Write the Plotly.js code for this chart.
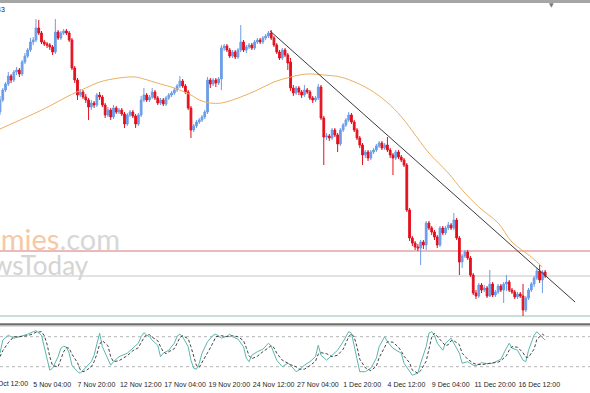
<!DOCTYPE html>
<html><head><meta charset="utf-8">
<script src="https://cdn.plot.ly/plotly-3.0.1.min.js"></script>
<style>html,body{margin:0;padding:0;background:#fff;overflow:hidden}#chart{width:590px;height:393px}</style>
</head><body><div id="chart"></div>
<script>
// ---------- DATA (H4 candles) ----------
const open = [1.1088,1.1100,1.1110,1.1116,1.1124,1.1120,1.1128,1.1130,1.1126,1.1138,
 1.1144,1.1150,1.1158,1.1160,1.1172,1.1167,1.1158,1.1156,1.1155,1.1153,
 1.1148,1.1168,1.1162,1.1167,1.1169,1.1167,1.1160,1.1132,1.1120,1.1105,
 1.1108,1.1103,1.1100,1.1093,1.1097,1.1095,1.1105,1.1103,1.1095,1.1085,
 1.1090,1.1083,1.1092,1.1088,1.1090,1.1086,1.1076,1.1085,1.1088,1.1084,
 1.1076,1.1085,1.1100,1.1105,1.1100,1.1103,1.1108,1.1102,1.1097,1.1100,
 1.1096,1.1102,1.1105,1.1107,1.1110,1.1114,1.1119,1.1114,1.1108,1.1092,
 1.1070,1.1074,1.1078,1.1080,1.1083,1.1088,1.1120,1.1116,1.1120,1.1117,
 1.1121,1.1152,1.1154,1.1150,1.1144,1.1148,1.1143,1.1150,1.1158,1.1150,
 1.1153,1.1155,1.1152,1.1158,1.1160,1.1158,1.1162,1.1164,1.1167,1.1162,
 1.1155,1.1148,1.1142,1.1150,1.1145,1.1138,1.1112,1.1107,1.1112,1.1108,
 1.1105,1.1110,1.1108,1.1102,1.1100,1.1102,1.1113,1.1082,1.1063,1.1064,
 1.1062,1.1070,1.1065,1.1056,1.1070,1.1075,1.1080,1.1085,1.1078,1.1070,
 1.1062,1.1055,1.1045,1.1048,1.1042,1.1048,1.1050,1.1054,1.1057,1.1052,
 1.1055,1.1050,1.1045,1.1042,1.1048,1.1043,1.1040,1.1035,1.0990,1.0962,
 1.0957,1.0953,1.0952,1.0958,1.0955,1.0977,1.0972,1.0968,1.0963,1.0955,
 1.0972,1.0967,1.0972,1.0975,1.0972,1.0980,1.0962,1.0938,1.0944,1.0948,
 1.0942,1.0925,1.0907,1.0904,1.0915,1.0910,1.0912,1.0904,1.0916,1.0905,
 1.0908,1.0914,1.0910,1.0916,1.0918,1.0910,1.0908,1.0903,1.0906,1.0904,
 1.0890,1.0902,1.0910,1.0916,1.0922,1.0929,1.0920,1.0928];
const high = [1.1104,1.1112,1.1118,1.1128,1.1126,1.1130,1.1133,1.1132,1.1140,1.1147,
 1.1152,1.1162,1.1163,1.1181,1.1180,1.1169,1.1160,1.1158,1.1157,1.1155,
 1.1181,1.1170,1.1169,1.1171,1.1171,1.1169,1.1162,1.1134,1.1122,1.1111,
 1.1110,1.1106,1.1102,1.1100,1.1099,1.1107,1.1108,1.1105,1.1097,1.1093,
 1.1092,1.1095,1.1094,1.1092,1.1092,1.1088,1.1087,1.1090,1.1090,1.1086,
 1.1087,1.1104,1.1112,1.1107,1.1105,1.1112,1.1110,1.1104,1.1102,1.1102,
 1.1104,1.1107,1.1109,1.1112,1.1116,1.1124,1.1121,1.1116,1.1110,1.1094,
 1.1076,1.1080,1.1082,1.1085,1.1090,1.1123,1.1122,1.1122,1.1122,1.1123,
 1.1155,1.1156,1.1156,1.1152,1.1150,1.1150,1.1152,1.1175,1.1160,1.1155,
 1.1157,1.1157,1.1160,1.1162,1.1162,1.1164,1.1166,1.1169,1.1170,1.1164,
 1.1157,1.1150,1.1152,1.1152,1.1147,1.1142,1.1115,1.1114,1.1114,1.1110,
 1.1115,1.1112,1.1110,1.1104,1.1104,1.1116,1.1115,1.1084,1.1067,1.1066,
 1.1072,1.1072,1.1067,1.1072,1.1077,1.1082,1.1088,1.1087,1.1080,1.1072,
 1.1064,1.1057,1.1050,1.1050,1.1050,1.1052,1.1056,1.1059,1.1059,1.1057,
 1.1063,1.1052,1.1047,1.1050,1.1050,1.1045,1.1042,1.1037,1.0992,1.0964,
 1.0959,1.0956,1.0960,1.0960,1.0979,1.0979,1.0974,1.0970,1.0965,1.0974,
 1.0974,1.0974,1.0978,1.0977,1.0987,1.0982,1.0964,1.0946,1.0950,1.0950,
 1.0944,1.0927,1.0910,1.0917,1.0917,1.0915,1.0914,1.0930,1.0918,1.0910,
 1.0916,1.0916,1.0918,1.0925,1.0920,1.0912,1.0910,1.0908,1.0908,1.0916,
 1.0904,1.0912,1.0918,1.0924,1.0932,1.0935,1.0930,1.0930];
const low = [1.1085,1.1098,1.1108,1.1114,1.1117,1.1118,1.1125,1.1123,1.1124,1.1136,
 1.1142,1.1148,1.1155,1.1158,1.1165,1.1156,1.1154,1.1152,1.1150,1.1145,
 1.1146,1.1160,1.1160,1.1165,1.1165,1.1158,1.1130,1.1117,1.1100,1.1103,
 1.1101,1.1097,1.1080,1.1090,1.1092,1.1093,1.1100,1.1093,1.1082,1.1083,
 1.1080,1.1081,1.1086,1.1086,1.1084,1.1072,1.1074,1.1083,1.1082,1.1072,
 1.1074,1.1083,1.1098,1.1098,1.1098,1.1101,1.1100,1.1095,1.1095,1.1094,
 1.1094,1.1100,1.1103,1.1105,1.1108,1.1112,1.1112,1.1106,1.1090,1.1062,
 1.1068,1.1072,1.1076,1.1078,1.1081,1.1086,1.1112,1.1114,1.1113,1.1115,
 1.1110,1.1149,1.1148,1.1142,1.1142,1.1141,1.1141,1.1148,1.1148,1.1147,
 1.1151,1.1150,1.1150,1.1156,1.1156,1.1156,1.1160,1.1162,1.1160,1.1153,
 1.1146,1.1140,1.1140,1.1143,1.1130,1.1109,1.1104,1.1105,1.1105,1.1102,
 1.1103,1.1106,1.1100,1.1097,1.1098,1.1100,1.1080,1.1035,1.1060,1.1059,
 1.1060,1.1063,1.1048,1.1054,1.1068,1.1073,1.1078,1.1076,1.1068,1.1060,
 1.1052,1.1035,1.1042,1.1039,1.1040,1.1046,1.1048,1.1052,1.1050,1.1050,
 1.1048,1.1042,1.1025,1.1040,1.1041,1.1038,1.1033,1.0988,1.0959,1.0954,
 1.0950,1.0949,1.0935,1.0951,1.0950,1.0970,1.0965,1.0960,1.0952,1.0953,
 1.0965,1.0965,1.0970,1.0970,1.0970,1.0960,1.0925,1.0932,1.0942,1.0940,
 1.0923,1.0905,1.0901,1.0902,1.0907,1.0908,1.0902,1.0903,1.0903,1.0903,
 1.0906,1.0908,1.0897,1.0909,1.0908,1.0906,1.0901,1.0901,1.0902,1.0884,
 1.0888,1.0900,1.0908,1.0913,1.0920,1.0917,1.0907,1.0922];
const close = [1.1100,1.1110,1.1116,1.1124,1.1120,1.1128,1.1130,1.1126,1.1138,1.1144,
 1.1150,1.1158,1.1160,1.1172,1.1167,1.1158,1.1156,1.1155,1.1153,1.1148,
 1.1168,1.1162,1.1167,1.1169,1.1167,1.1160,1.1132,1.1120,1.1105,1.1108,
 1.1103,1.1100,1.1093,1.1097,1.1095,1.1105,1.1103,1.1095,1.1085,1.1090,
 1.1083,1.1092,1.1088,1.1090,1.1086,1.1076,1.1085,1.1088,1.1084,1.1076,
 1.1085,1.1100,1.1105,1.1100,1.1103,1.1108,1.1102,1.1097,1.1100,1.1096,
 1.1102,1.1105,1.1107,1.1110,1.1114,1.1119,1.1114,1.1108,1.1092,1.1070,
 1.1074,1.1078,1.1080,1.1083,1.1088,1.1120,1.1116,1.1120,1.1117,1.1121,
 1.1152,1.1154,1.1150,1.1144,1.1148,1.1143,1.1150,1.1158,1.1150,1.1153,
 1.1155,1.1152,1.1158,1.1160,1.1158,1.1162,1.1164,1.1167,1.1162,1.1155,
 1.1148,1.1142,1.1150,1.1145,1.1137,1.1112,1.1107,1.1112,1.1108,1.1105,
 1.1110,1.1108,1.1102,1.1100,1.1102,1.1113,1.1082,1.1063,1.1064,1.1062,
 1.1070,1.1065,1.1056,1.1070,1.1075,1.1080,1.1085,1.1078,1.1070,1.1062,
 1.1055,1.1045,1.1048,1.1042,1.1048,1.1050,1.1054,1.1057,1.1052,1.1055,
 1.1050,1.1045,1.1042,1.1048,1.1043,1.1040,1.1035,1.0990,1.0962,1.0957,
 1.0953,1.0952,1.0958,1.0955,1.0977,1.0972,1.0968,1.0963,1.0955,1.0972,
 1.0967,1.0972,1.0975,1.0972,1.0980,1.0962,1.0938,1.0944,1.0948,1.0942,
 1.0925,1.0907,1.0904,1.0915,1.0910,1.0912,1.0904,1.0916,1.0905,1.0908,
 1.0914,1.0910,1.0916,1.0918,1.0910,1.0908,1.0903,1.0906,1.0904,1.0890,
 1.0902,1.0910,1.0916,1.0922,1.0929,1.0920,1.0928,1.0924];
const bars = open.map((_, i) => i);   // bar number on the time axis

// moving average (read at sample bars)
const maBar   = [0,12,18,24,31,36,43,49,52,58,63,69,72,76,80,87,93,99,105,111,117,123,129,135,141,146,149,155,162,167,173,180,185,192,196];
const maValue = [1.1071,1.1086,1.1094,1.1103,1.1112,1.1118,1.1122,1.1123,1.1121,1.1116,1.1112,1.1105,1.1100,1.1097,1.1097,1.1103,1.1110,1.1118,1.1123,1.1126,1.1125,1.1123,1.1117,1.1108,1.1095,1.1080,1.1069,1.1047,1.1027,1.1010,1.0993,1.0977,1.0958,1.0943,1.0933];

// down trend line and horizontal levels
const trendBar   = [97.6, 207.8];
const trendPrice = [1.1169, 1.0898];
const levelResistance = 1.0949;
const levelPivot      = 1.0924;
const levelSupport    = 1.0884;

// stochastic oscillator
const stochBar = [0,1,3,5,7,10,12,13,15,16,17,18,19,21,22,23,24,25,26,28,29,30,31,33,34,35,36,37,39,40,41,43,46,47,48,50,51,52,53,54,55,57,58,59,60,61,63,64,65,66,68,69,70,71,72,73,75,77,78,80,82,83,84,86,88,89,90,91,93,95,97,98,99,100,102,104,105,107,108,110,112,114,115,116,118,120,122,124,125,126,127,128,129,130,132,134,136,137,139,140,142,144,145,146,148,149,151,152,154,155,156,157,158,160,161,162,163,164,166,167,169,171,172,174,176,178,180,181,183,184,185,187,189,190,191,193,194,196,197];
const stochMain = [47,73,83,77,80,85,90,92,83,60,33,13,17,40,57,61,59,47,23,10,7,13,20,30,43,67,87,60,33,23,30,40,47,52,57,67,80,88,83,80,73,63,40,47,50,53,67,81,85,80,60,33,17,15,27,47,70,83,85,77,81,85,80,75,60,37,30,43,50,55,67,61,47,33,20,27,23,10,13,23,30,40,63,43,33,43,53,70,80,90,87,60,33,10,10,17,37,60,80,70,57,50,47,27,10,3,7,27,60,87,90,83,67,53,67,73,77,67,47,27,30,23,22,28,26,27,33,35,57,67,57,53,33,30,53,83,90,80,73];
const stochSignal = [40,52,68,80,80,82,86,89,90,82,65,40,22,20,35,50,58,57,45,28,14,10,12,20,30,45,65,72,62,40,30,32,42,47,52,58,68,78,84,84,79,72,60,50,46,50,56,67,78,82,76,60,38,22,19,28,48,68,80,82,80,81,82,80,72,58,42,36,41,50,58,62,58,47,33,26,24,20,15,15,22,31,45,48,46,40,43,55,68,80,86,79,60,35,18,12,21,38,59,70,69,59,51,41,28,13,7,12,31,58,79,87,80,68,62,64,72,72,64,47,35,27,25,24,26,27,29,32,42,53,60,59,48,39,39,55,75,85,81];
const stochLevels = [80, 20];

// time axis labels
const tickBar  = [12,28,44,60,76,92,108,124,140,156,172,188];
const tickText = ["5 Nov 04:00","7 Nov 20:00","12 Nov 12:00","17 Nov 04:00","19 Nov 20:00","24 Nov 12:00","27 Nov 04:00","1 Dec 20:00","4 Dec 12:00","9 Dec 04:00","11 Dec 20:00","16 Dec 12:00"];
const firstTickText = "31 Oct 12:00";   // label of the bar just left of the view

// ---------- LAYOUT ----------
const W = 590, H = 393;
const fy = px => 1 - px / H;      // pixel row -> paper fraction
const fx = px => px / W;

const traces = [
  {type:'scatter', mode:'lines', x: maBar, y: maValue, xaxis:'x', yaxis:'y',
   line:{color:'#ebb062', width:1, shape:'spline', smoothing:1}, hoverinfo:'skip'},
  {type:'candlestick', x: bars, open, high, low, close, xaxis:'x', yaxis:'y',
   increasing:{line:{color:'#6c9de8', width:1}, fillcolor:'#6c9de8'},
   decreasing:{line:{color:'#e3101e', width:1}, fillcolor:'#e3101e'},
   whiskerwidth:0, hoverinfo:'skip'},
  {type:'scatter', mode:'lines', x: trendBar, y: trendPrice, xaxis:'x', yaxis:'y',
   line:{color:'#3a3a3a', width:1}, hoverinfo:'skip'},
  {type:'scatter', mode:'lines', x: stochBar, y: stochMain, xaxis:'x', yaxis:'y2',
   line:{color:'#5db6ae', width:1}, hoverinfo:'skip'},
  {type:'scatter', mode:'lines', x: stochBar, y: stochSignal, xaxis:'x', yaxis:'y2',
   line:{color:'#444444', width:1, dash:'3px,2px'}, hoverinfo:'skip'}
];

const shapes = [
  {type:'rect', xref:'paper', yref:'paper', x0:0, x1:1, y0:fy(3), y1:1, fillcolor:'#a6a6a6', line:{width:0}},
  {type:'rect', xref:'paper', yref:'paper', x0:0, x1:1, y0:fy(325.5), y1:fy(323.3), fillcolor:'#6e6e6e', line:{width:0}},
  {type:'rect', xref:'paper', yref:'paper', x0:0, x1:1, y0:fy(326.5), y1:fy(325.5), fillcolor:'#bdbdbd', line:{width:0}},
  {type:'line', xref:'paper', yref:'y', x0:0, x1:1, y0:levelResistance, y1:levelResistance, line:{color:'#d9727a', width:1}, layer:'below'},
  {type:'line', xref:'paper', yref:'y', x0:0, x1:1, y0:levelPivot, y1:levelPivot, line:{color:'#c6c6c6', width:1}, layer:'below'},
  {type:'line', xref:'paper', yref:'y', x0:0, x1:1, y0:levelSupport, y1:levelSupport, line:{color:'#93c1b2', width:1}, layer:'below'}
].concat(stochLevels.map(v => ({type:'line', xref:'paper', yref:'y2', x0:0, x1:1, y0:v, y1:v,
   line:{color:'#b4b4b4', width:1, dash:'dot'}, layer:'below'})));

const tickFont = {family:'Liberation Sans, Arial, sans-serif', size:7, color:'#1e1e1e'};

const annotations = [
  {xref:'paper', yref:'paper', x:fx(122), y:fy(238), xanchor:'right', yanchor:'middle', showarrow:false,
   text:'<span style="color:#f6c8a4">Economies</span><span style="color:#d7d7d7">.com</span>',
   font:{family:'Lato, sans-serif', size:29}},
  {xref:'paper', yref:'paper', x:fx(91), y:fy(265), xanchor:'right', yanchor:'middle', showarrow:false,
   text:'NewsToday', font:{family:'Lato, sans-serif', size:26, color:'#d4d4d4'}},
  {xref:'paper', yref:'paper', x:fx(7), y:fy(9), xanchor:'right', yanchor:'middle', showarrow:false,
   text:'43', font:{family:'Liberation Sans, Arial, sans-serif', size:7, color:'#222'}},
  {xref:'paper', yref:'paper', x:fx(551.5), y:fy(4.5), xanchor:'center', yanchor:'middle', showarrow:false,
   text:'▼', font:{family:'DejaVu Sans', size:6, color:'#7a7a7a'}},
  {xref:'paper', yref:'paper', x:fx(29.5), y:fy(383), xanchor:'right', yanchor:'middle', showarrow:false,
   text:firstTickText, font:tickFont}
];

const layout = {
  width:W, height:H, margin:{l:0, r:0, t:0, b:0, pad:0},
  paper_bgcolor:'#ffffff', plot_bgcolor:'#ffffff', showlegend:false,
  boxgap:0.3, boxgroupgap:0.1,
  xaxis:{range:[0, 213.2], anchor:'y2', rangeslider:{visible:false}, showgrid:false, zeroline:false,
         showline:false, ticks:'', tickmode:'array', tickvals:tickBar, ticktext:tickText,
         tickfont:tickFont, ticklabelshift:19, ticklabelstandoff:2, fixedrange:true},
  yaxis:{domain:[fy(321), fy(4)], range:[1.0879, 1.1196], visible:false, fixedrange:true},
  yaxis2:{domain:[fy(376.7), fy(326.7)], range:[0, 100], visible:false, fixedrange:true},
  shapes, annotations
};

Plotly.newPlot('chart', traces, layout, {staticPlot:true, displayModeBar:false});
</script></body></html>
